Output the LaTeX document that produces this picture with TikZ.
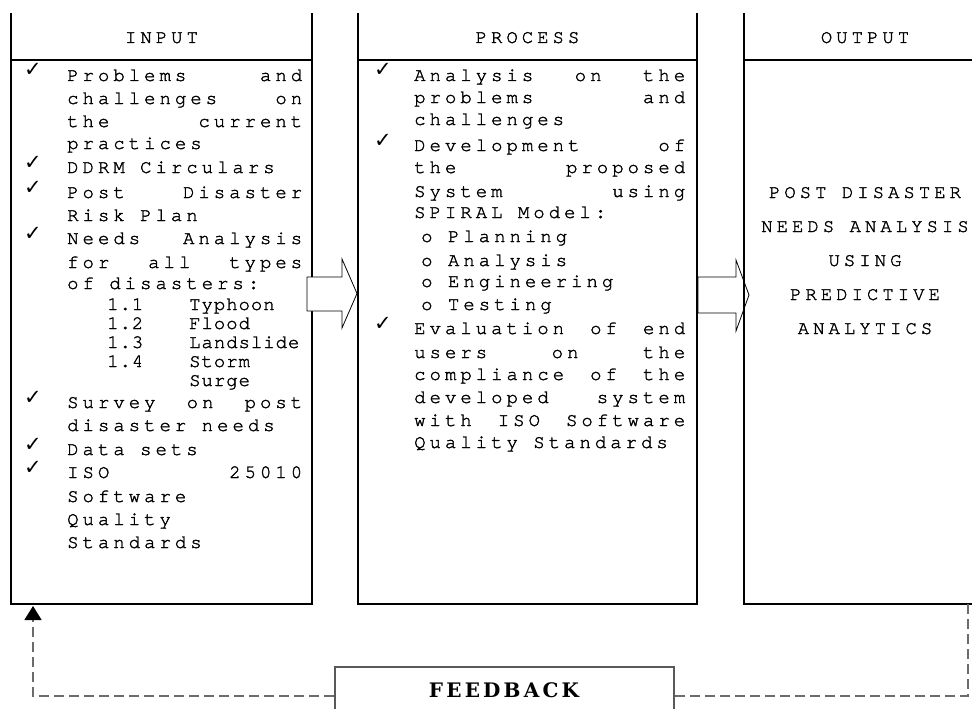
\documentclass[tikz,border=0pt]{standalone}
\usepackage{fontspec}
\usetikzlibrary{arrows.meta}
\newfontfamily\bodyfont[LetterSpace=21,FakeBold=1.6]{texgyrecursor-regular.otf}
\newfontfamily\subfont[LetterSpace=5,FakeBold=1.6]{texgyrecursor-regular.otf}
\newfontfamily\symfont{DejaVu Sans}
\newfontfamily\fbfont[LetterSpace=16]{DejaVu Serif}
\newlength{\iw}\setlength{\iw}{235pt}
\newlength{\pw}\setlength{\pw}{271pt}
\tikzset{
  boxline/.style={line width=1.1pt, draw=black},
  hdr/.style={inner sep=0pt, anchor=base, font=\bodyfont\fontsize{19}{22}\selectfont},
  txt/.style={inner sep=0pt, anchor=base west, font=\bodyfont\fontsize{19}{22}\selectfont},
  subtxt/.style={inner sep=0pt, anchor=base west, font=\subfont\fontsize{19}{22}\selectfont},
  ctxt/.style={inner sep=0pt, anchor=base, font=\bodyfont\fontsize{19}{22}\selectfont},
  chk/.style={inner sep=0pt, anchor=base west, font=\symfont\fontsize{21}{24}\selectfont},
  blockarrow/.style={draw=black, line width=0.8pt, fill=white},
  fbline/.style={draw=black!58, line width=1.5pt, dash pattern=on 10pt off 5pt},
  fbbox/.style={draw=black!65, line width=1.5pt, fill=white, inner sep=0pt},
  fbtext/.style={inner sep=0pt, anchor=base, font=\fbfont\bfseries\fontsize{20}{22}\selectfont}
}
\newcommand{\JL}[5]{\node[txt] (#1) at (#2,#3) {\makebox[#4][s]{#5}};}
\newcommand{\CK}[3]{\node[chk] (#1) at (#2,#3) {✓};}
\begin{document}
\begin{tikzpicture}[x=1pt,y=-1pt]
\useasboundingbox (0,0) rectangle (972,709);
\clip (0,0) rectangle (972,709);
\fill[white] (0,0) rectangle (972,709);

% INPUT box
\coordinate (inTL) at (11,13);
\coordinate (inBR) at (312,604);
\draw[boxline] (inTL) -- (11,604) -- (inBR) -- (312,13);
\draw[boxline] (11,60) -- (312,60);
\node[hdr] (inhdr) at (161.5,43) {INPUT};

% PROCESS box
\coordinate (prTL) at (358,13);
\coordinate (prBR) at (697,604);
\draw[boxline] (prTL) -- (358,604) -- (prBR) -- (697,13);
\draw[boxline] (358,60) -- (697,60);
\node[hdr] (prhdr) at (527.5,43) {PROCESS};

% block arrows
\draw[blockarrow] (307,277) -- (342,277) -- (342,259) -- (357,293.5) -- (342,328) -- (342,311) -- (307,311) -- cycle;
\draw[blockarrow] (698,277) -- (736,277) -- (736,260) -- (749,295) -- (736,331) -- (736,313) -- (698,313) -- cycle;

% OUTPUT box
\coordinate (ouTL) at (744,13);
\coordinate (ouBL) at (744,604);
\draw[boxline] (ouTL) -- (ouBL) -- (990,604) -- (990,13);
\draw[boxline] (744,60) -- (990,60);
\node[hdr] (ouhdr) at (865,43) {OUTPUT};

% INPUT text
\CK{c1}{24}{77}
\JL{i1}{67}{81}{\iw}{Problems and}
\JL{i2}{67}{104}{\iw}{challenges on}
\JL{i3}{67}{127}{\iw}{the current}
\node[txt] (i4) at (67,149) {practices};
\CK{c2}{24}{169}
\node[txt] (i5) at (67,173) {DDRM Circulars};
\CK{c3}{24}{194}
\JL{i6}{67}{198}{\iw}{Post Disaster}
\node[txt] (i7) at (67,221) {Risk Plan};
\CK{c4}{24}{240}
\JL{i8}{67}{244}{\iw}{Needs Analysis}
\JL{i9}{67}{268}{\iw}{for all types}
\node[txt] (i10) at (67,289) {of disasters:};
\node[subtxt] (i11) at (107,310) {\makebox[82pt][l]{1.1}Typhoon};
\node[subtxt] (i12) at (107,329) {\makebox[82pt][l]{1.2}Flood};
\node[subtxt] (i13) at (107,348) {\makebox[82pt][l]{1.3}Landslide};
\node[subtxt] (i14) at (107,367) {\makebox[82pt][l]{1.4}Storm};
\node[subtxt] (i15) at (189,386) {Surge};
\CK{c5}{24}{404}
\JL{i16}{67}{408}{\iw}{Survey on post}
\node[txt] (i17) at (67,431) {disaster needs};
\CK{c6}{24}{451}
\node[txt] (i18) at (67,455) {Data sets};
\CK{c7}{24}{474}
\JL{i19}{67}{478}{\iw}{ISO 25010}
\node[txt] (i20) at (67,502) {Software};
\node[txt] (i21) at (67,525) {Quality};
\node[txt] (i22) at (67,548) {Standards};

% PROCESS text
\CK{pc1}{374}{77}
\JL{p1}{414}{81}{\pw}{Analysis on the}
\JL{p2}{414}{103}{\pw}{problems and}
\node[txt] (p3) at (414,125) {challenges};
\CK{pc2}{374}{147}
\JL{p4}{414}{151}{\pw}{Development of}
\JL{p5}{414}{173}{\pw}{the proposed}
\JL{p6}{414}{197}{\pw}{System using}
\node[txt] (p7) at (414,218) {SPIRAL Model:};
\node[txt] (p8) at (421,242) {o Planning};
\node[txt] (p9) at (421,266) {o Analysis};
\node[txt] (p10) at (421,287) {o Engineering};
\node[txt] (p11) at (421,310) {o Testing};
\CK{pc3}{374}{330}
\JL{p12}{414}{334}{\pw}{Evaluation of end}
\JL{p13}{414}{358}{\pw}{users on the}
\JL{p14}{414}{380}{\pw}{compliance of the}
\JL{p15}{414}{403}{\pw}{developed system}
\JL{p16}{414}{426}{\pw}{with ISO Software}
\node[txt] (p17) at (414,448) {Quality Standards};

% OUTPUT text
\node[ctxt] (o1) at (865,198) {POST DISASTER};
\node[ctxt] (o2) at (865,232) {NEEDS ANALYSIS};
\node[ctxt] (o3) at (865,266) {USING};
\node[ctxt] (o4) at (865,300) {PREDICTIVE};
\node[ctxt] (o5) at (865,334) {ANALYTICS};

% FEEDBACK
\node[fbbox, anchor=north west, minimum width=339pt, minimum height=80pt] (fb) at (334,666) {};
\node[fbtext] (fbt) at (504,697) {FEEDBACK};
\coordinate (fbw) at (334,696);
\coordinate (fbe) at (673,696);
\coordinate (outcorner) at (968,604);
\coordinate (inarrow) at (33,606);
\draw[fbline] (outcorner) |- (fbe);
\draw[fbline, -{Triangle[width=17pt,length=14pt,color=black]}] (fbw) -| (inarrow);
\end{tikzpicture}
\end{document}
